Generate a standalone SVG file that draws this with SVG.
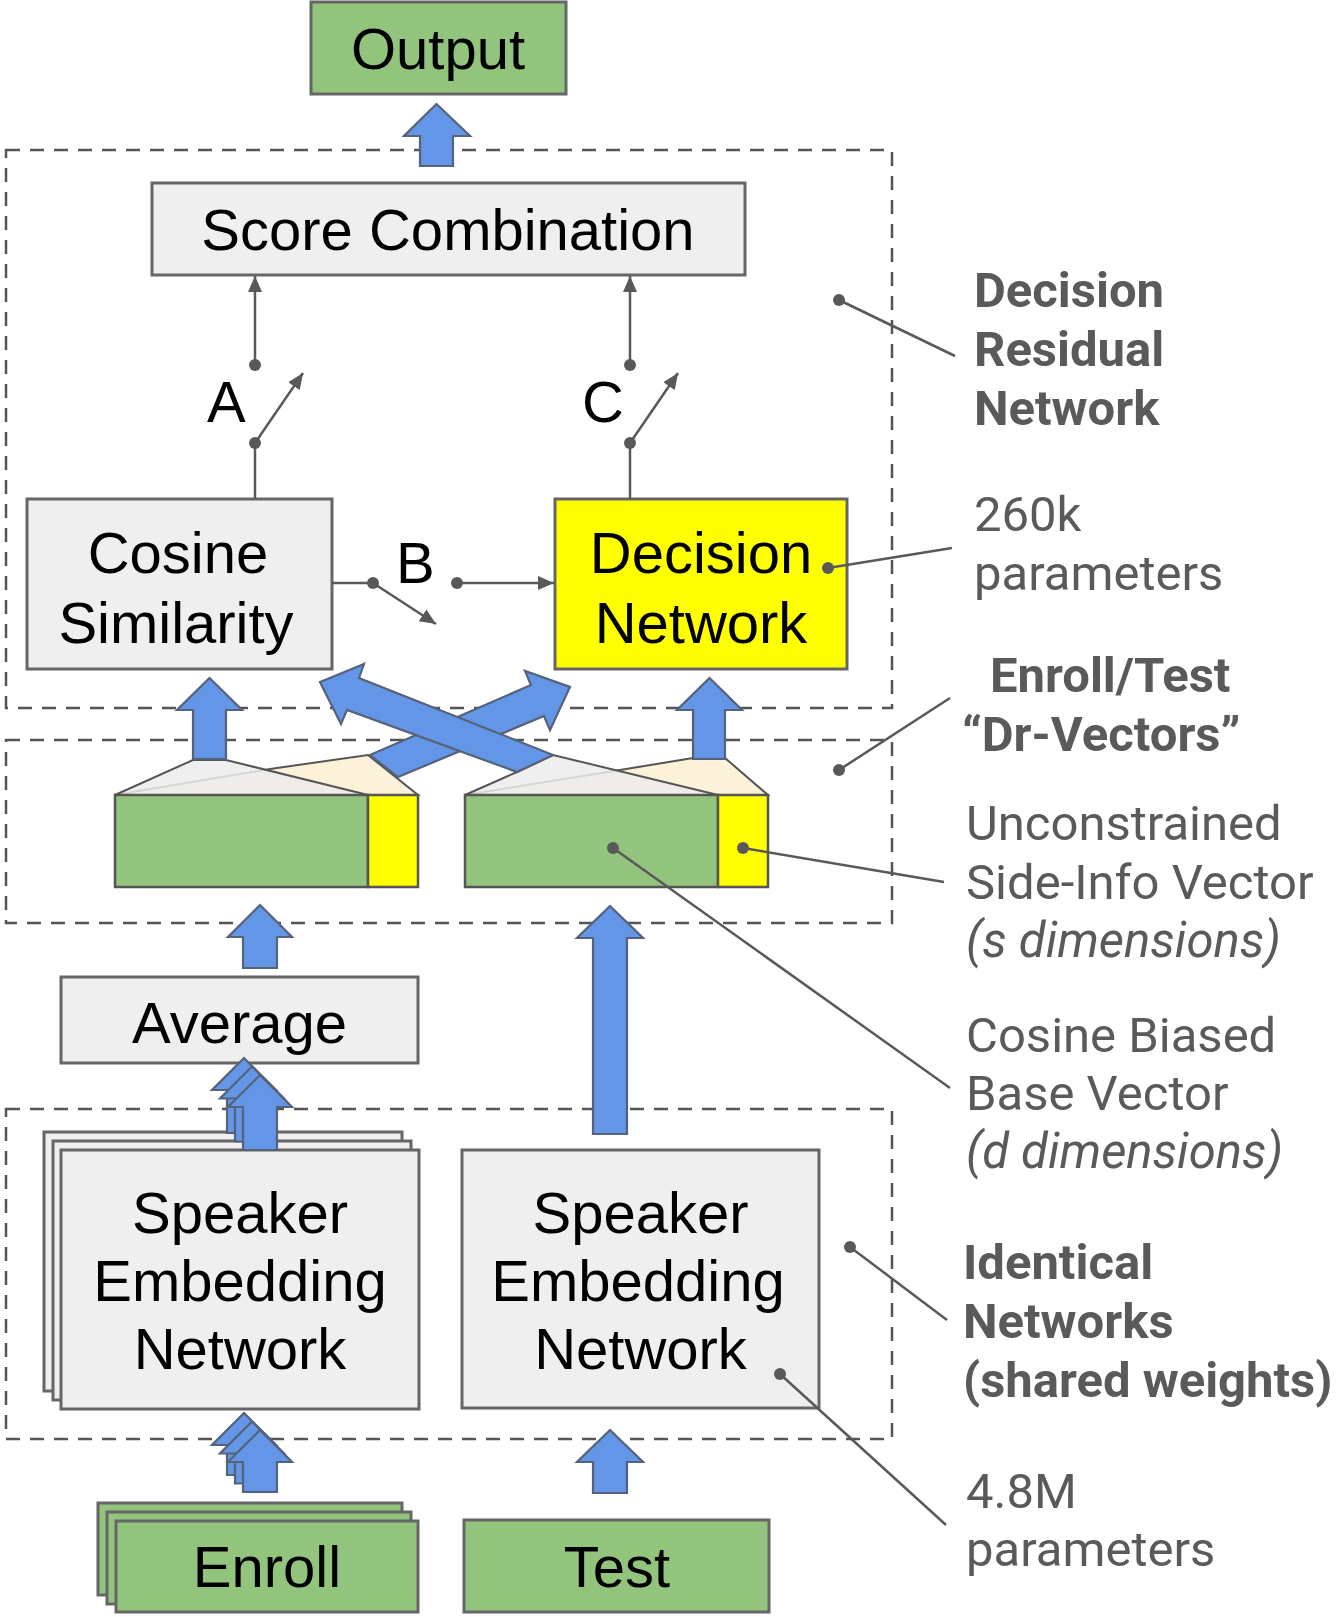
<svg xmlns="http://www.w3.org/2000/svg" width="1338" height="1617" viewBox="0 0 1338 1617">
<defs>
<style>
.box{fill:#efefef;stroke:#666;stroke-width:3}
.grn{fill:#93c47d;stroke:#666;stroke-width:3}
.yel{fill:#ffff00;stroke:#666;stroke-width:3}
.dash{fill:none;stroke:#555;stroke-width:2.5;stroke-dasharray:14 10}
.blk{fill:#6396e6;stroke:#56627a;stroke-width:2.2;stroke-linejoin:miter}
.lbl{font-family:"Liberation Sans",Arial,sans-serif;font-size:58px;fill:#000}
.ann{font-family:Roboto,"Liberation Sans",sans-serif;font-size:49px;fill:#5a5a5a}
.b{font-weight:bold}
.it{font-style:italic}
.con{stroke:#595959;stroke-width:2.5;fill:none}
.dot{fill:#595959}
.cream{fill:#fcf2d9;stroke:#555;stroke-width:2}
.gface{fill:#ececec;fill-opacity:0.85;stroke:#555;stroke-width:2}
.yf{fill:#ffff00;stroke:#555;stroke-width:2.5}
.gf{fill:#93c47d;stroke:#555;stroke-width:2.5}
</style>
<marker id="ah" viewBox="0 0 16 14" refX="16" refY="7" markerWidth="16" markerHeight="14" markerUnits="userSpaceOnUse" orient="auto">
<path d="M0,0 L16,7 L0,14 z" fill="#595959"/>
</marker>
</defs>
<rect width="1338" height="1617" fill="#ffffff"/>

<g id="groups">
<rect class="dash" x="6" y="150" width="886" height="558"/>
<rect class="dash" x="6" y="740" width="886" height="183"/>
<rect class="dash" x="6" y="1109" width="886" height="330"/>
</g>

<g id="output">
<rect class="grn" x="311" y="2" width="255" height="92"/>
<text class="lbl" x="438" y="69" text-anchor="middle">Output</text>
</g>

<g id="score-combination">
<rect class="box" x="152" y="183" width="593" height="92"/>
<text class="lbl" x="448" y="250" text-anchor="middle">Score Combination</text>
</g>

<g id="cosine-similarity">
<rect class="box" x="27" y="499" width="305" height="170"/>
<text class="lbl" x="178" y="573" text-anchor="middle">Cosine</text>
<text class="lbl" x="176" y="643" text-anchor="middle">Similarity</text>
</g>

<g id="decision-network">
<rect class="yel" x="555" y="499" width="292" height="170"/>
<text class="lbl" x="701" y="573" text-anchor="middle">Decision</text>
<text class="lbl" x="701" y="643" text-anchor="middle">Network</text>
</g>

<g id="enroll-vector">
<polygon class="cream" points="115,795 270,769 368,755 418,795"/>
<polygon class="gface" points="115,795 193,760 226,760 368,795"/>
<rect class="gf" x="115" y="795" width="253" height="92"/>
<rect class="yf" x="368" y="795" width="50" height="92"/>
</g>

<g id="test-vector">
<polygon class="cream" points="465,795 620,770 693,758 725,758 768,795"/>
<polygon class="gface" points="465,795 517,772 553,755 718,795"/>
<rect class="gf" x="465" y="795" width="253" height="92"/>
<rect class="yf" x="718" y="795" width="50" height="92"/>
</g>

<g id="average">
<rect class="box" x="61" y="977" width="357" height="86"/>
<text class="lbl" x="239.5" y="1043" text-anchor="middle">Average</text>
</g>

<g id="enroll-embedding">
<rect class="box" x="44" y="1132" width="358" height="259"/>
<rect class="box" x="53" y="1141" width="358" height="259"/>
<rect class="box" x="61" y="1150" width="358" height="259"/>
<text class="lbl" x="240" y="1233" text-anchor="middle">Speaker</text>
<text class="lbl" x="240" y="1301" text-anchor="middle">Embedding</text>
<text class="lbl" x="240" y="1369" text-anchor="middle">Network</text>
</g>

<g id="test-embedding">
<rect class="box" x="462" y="1150" width="357" height="258"/>
<text class="lbl" x="640.5" y="1233" text-anchor="middle">Speaker</text>
<text class="lbl" x="638" y="1301" text-anchor="middle">Embedding</text>
<text class="lbl" x="640.5" y="1369" text-anchor="middle">Network</text>
</g>

<g id="enroll">
<rect class="grn" x="98" y="1503" width="304" height="92"/>
<rect class="grn" x="107" y="1512" width="304" height="92"/>
<rect class="grn" x="116" y="1521" width="302" height="91"/>
<text class="lbl" x="267" y="1587" text-anchor="middle">Enroll</text>
</g>

<g id="test">
<rect class="grn" x="464" y="1520" width="305" height="92"/>
<text class="lbl" x="617" y="1587" text-anchor="middle">Test</text>
</g>

<g id="connectors">
<polygon class="blk" points="436.5,104 470,136 453,136 453,166 420,166 420,136 404,136"/>
<polygon class="blk" points="209.5,678 242,710 226,710 226,759 193,759 193,710 177,710"/>
<polygon class="blk" points="709.5,678 742,710 725,710 725,759 693,759 693,710 677,710"/>
<polygon class="blk" points="260,905 292,937 277,937 277,968 243,968 243,937 228,937"/>
<polygon class="blk" points="610,906 643,938 627,938 627,1134 593,1134 593,938 577,938"/>
<polygon class="blk" points="610,1430 643,1462 627,1462 627,1493 593,1493 593,1462 577,1462"/>
<g transform="translate(-16,-17)"><polygon class="blk" points="260,1075 292,1107 277,1107 277,1150 243,1150 243,1107 228,1107"/></g>
<g transform="translate(-8,-8.5)"><polygon class="blk" points="260,1075 292,1107 277,1107 277,1150 243,1150 243,1107 228,1107"/></g>
<polygon class="blk" points="260,1075 292,1107 277,1107 277,1150 243,1150 243,1107 228,1107"/>
<g transform="translate(-16,-17)"><polygon class="blk" points="260,1430 292,1462 277,1462 277,1492 243,1492 243,1462 228,1462"/></g>
<g transform="translate(-8,-8.5)"><polygon class="blk" points="260,1430 292,1462 277,1462 277,1492 243,1492 243,1462 228,1462"/></g>
<polygon class="blk" points="260,1430 292,1462 277,1462 277,1492 243,1492 243,1462 228,1462"/>
<polygon class="blk" points="370,755 531,685 525,671 570,687 550,730 544,716 398,777"/>
<polygon class="blk" points="553,755 359,678 364,664 320,682 341,724 347,710 517,772"/>

<line class="con" x1="255" y1="499" x2="255" y2="443"/>
<line class="con" x1="255" y1="443" x2="303" y2="373" marker-end="url(#ah)"/>
<line class="con" x1="255" y1="365" x2="255" y2="276" marker-end="url(#ah)"/>
<circle class="dot" cx="255" cy="443" r="6"/>
<circle class="dot" cx="255" cy="365" r="6"/>
<line class="con" x1="630" y1="499" x2="630" y2="443"/>
<line class="con" x1="630" y1="443" x2="678" y2="373" marker-end="url(#ah)"/>
<line class="con" x1="630" y1="365" x2="630" y2="276" marker-end="url(#ah)"/>
<circle class="dot" cx="630" cy="443" r="6"/>
<circle class="dot" cx="630" cy="365" r="6"/>
<line class="con" x1="332" y1="583" x2="373" y2="583"/>
<line class="con" x1="373" y1="583" x2="436" y2="624" marker-end="url(#ah)"/>
<line class="con" x1="457" y1="583" x2="554" y2="583" marker-end="url(#ah)"/>
<circle class="dot" cx="373" cy="583" r="6"/>
<circle class="dot" cx="457" cy="583" r="6"/>

<line class="con" x1="839" y1="300" x2="955" y2="356"/>
<circle class="dot" cx="839" cy="300" r="6"/>
<line class="con" x1="828" y1="568" x2="952" y2="548"/>
<circle class="dot" cx="828" cy="568" r="6"/>
<line class="con" x1="839" y1="770" x2="950" y2="698"/>
<circle class="dot" cx="839" cy="770" r="6"/>
<line class="con" x1="743" y1="848" x2="944" y2="882"/>
<circle class="dot" cx="743" cy="848" r="6"/>
<line class="con" x1="613" y1="848" x2="950" y2="1088"/>
<circle class="dot" cx="613" cy="848" r="6"/>
<line class="con" x1="850" y1="1247" x2="947" y2="1320"/>
<circle class="dot" cx="850" cy="1247" r="6"/>
<line class="con" x1="780" y1="1374" x2="946" y2="1525"/>
<circle class="dot" cx="780" cy="1374" r="6"/>
</g>

<g id="switch-labels">
<text class="lbl" x="207" y="422">A</text>
<text class="lbl" x="396" y="583">B</text>
<text class="lbl" x="582" y="422">C</text>
</g>

<g id="annotations">
<text class="ann b" x="974" y="307">Decision</text>
<text class="ann b" x="974" y="366">Residual</text>
<text class="ann b" x="974" y="425">Network</text>
<text class="ann" x="974" y="531">260k</text>
<text class="ann" x="974" y="590">parameters</text>
<text class="ann b" x="990" y="692">Enroll/Test</text>
<text class="ann b" x="962" y="751">“Dr-Vectors”</text>
<text class="ann" x="966" y="840">Unconstrained</text>
<text class="ann" x="966" y="899">Side-Info Vector</text>
<text class="ann it" x="966" y="957">(s dimensions)</text>
<text class="ann" x="966" y="1052">Cosine Biased</text>
<text class="ann" x="966" y="1110">Base Vector</text>
<text class="ann it" x="966" y="1168">(d dimensions)</text>
<text class="ann b" x="963" y="1279">Identical</text>
<text class="ann b" x="963" y="1338">Networks</text>
<text class="ann b" x="963" y="1397">(shared weights)</text>
<text class="ann" x="966" y="1508">4.8M</text>
<text class="ann" x="966" y="1566">parameters</text>
</g>
</svg>
